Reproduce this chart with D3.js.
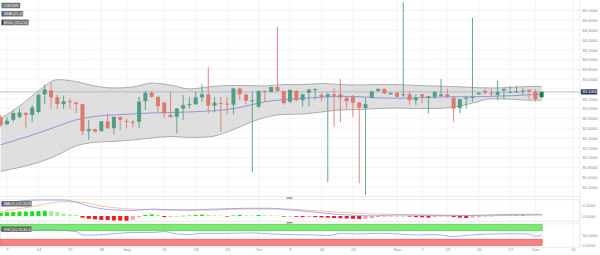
<!DOCTYPE html>
<html>
<head>
<meta charset="utf-8">
<script src="https://cdn.jsdelivr.net/npm/d3@7"></script>
<style>
body { margin: 0; background: #fff; }
svg { display: block; font-family: "Liberation Sans", Arial, sans-serif; }
</style>
</head>
<body>
<div id="chart"></div>
<script>
// USDINR daily candles, 4 Aug -> 4 Dec (weekdays)
var openP  = [82.82,82.68,82.77,82.83,82.91,82.87,82.93,83.29,83.37,83.23,83.09,83.15,83.12,83.09,82.54,82.58,82.54,82.74,82.60,82.83,82.75,82.73,82.73,83.15,83.32,83.24,83.12,82.87,82.83,83.00,83.07,83.09,83.23,83.29,83.06,83.11,83.10,83.08,83.41,83.29,83.16,83.04,83.36,83.34,83.44,83.36,83.14,83.36,83.17,83.32,83.39,83.28,83.24,83.29,83.29,83.22,83.24,83.12,83.01,83.22,83.36,83.40,83.29,83.32,83.27,83.29,83.17,83.29,83.22,83.24,83.26,83.29,83.22,83.01,83.20,83.22,83.29,83.36,83.32,83.28,83.37,83.33,83.34,83.35,83.38,83.35,83.23];
var highP  = [82.87,82.83,82.97,83.00,82.93,83.07,83.31,83.49,83.53,83.28,83.26,83.21,83.14,83.10,82.77,82.59,82.75,82.90,82.84,82.84,82.79,82.77,83.24,83.36,83.36,83.24,83.14,83.33,83.01,83.28,83.24,83.34,83.49,83.84,83.24,83.24,83.24,83.42,83.43,83.29,83.34,83.37,83.37,83.44,84.66,83.36,83.39,83.38,83.30,83.40,83.41,83.33,83.33,83.41,83.60,83.24,83.28,83.14,83.21,83.37,83.41,83.41,83.33,83.34,85.17,83.36,83.29,83.30,83.26,83.35,83.60,83.40,83.24,83.20,83.26,84.85,83.34,83.40,83.40,83.57,83.41,83.46,83.46,83.41,83.40,83.40,83.34];
var lowP   = [82.63,82.66,82.73,82.80,82.60,82.73,82.90,83.09,83.00,82.99,82.99,83.00,82.90,82.46,82.36,82.52,82.53,82.58,82.47,82.56,82.60,82.62,82.60,82.97,83.22,82.93,82.81,82.81,82.49,82.77,83.00,83.07,83.14,82.90,82.93,82.53,82.88,82.88,83.17,83.08,81.70,83.01,83.14,83.33,83.34,83.08,83.11,83.14,83.04,83.04,83.19,83.15,81.50,82.63,82.73,83.00,82.83,81.48,81.24,83.20,83.34,83.29,83.29,83.22,83.24,83.08,83.07,83.11,82.90,83.20,83.24,83.22,82.73,82.90,83.00,83.14,83.28,83.29,83.24,83.17,83.20,83.32,83.33,83.28,83.20,83.14,83.22];
var closeP = [82.66,82.75,82.91,82.92,82.87,83.02,83.28,83.39,83.23,83.09,83.15,83.13,83.09,82.54,82.58,82.53,82.74,82.60,82.83,82.77,82.73,82.71,83.14,83.32,83.24,83.05,82.90,82.83,83.00,83.07,83.09,83.23,83.29,83.06,83.12,83.10,83.08,83.41,83.29,83.16,83.17,83.36,83.34,83.44,83.36,83.11,83.38,83.17,83.29,83.39,83.40,83.24,83.29,83.26,83.22,83.15,83.12,83.02,83.09,83.34,83.40,83.31,83.32,83.24,83.29,83.17,83.22,83.24,83.25,83.34,83.29,83.24,83.00,83.19,83.22,83.24,83.32,83.32,83.31,83.34,83.40,83.34,83.35,83.37,83.35,83.19,83.34];

// SMA 21 and Bollinger 20,2 (sampled every few bars)
var bandIdx   = [0,3,6,9,12,15,18,21,24,27,30,33,36,39,42,45,48,51,54,57,60,63,66,69,72,75,78,81,84,86];
var bollUpper = [82.80,83.05,83.36,83.59,83.55,83.46,83.42,83.44,83.52,83.48,83.40,83.44,83.47,83.47,83.46,83.49,83.49,83.51,83.49,83.48,83.49,83.49,83.47,83.46,83.45,83.43,83.42,83.43,83.45,83.45];
var smaLine   = [82.26,82.38,82.50,82.64,82.77,82.84,82.87,82.89,82.91,82.92,82.93,82.95,82.98,83.05,83.14,83.18,83.21,83.23,83.25,83.24,83.22,83.21,83.22,83.23,83.24,83.24,83.25,83.26,83.28,83.29];
var bollLower = [81.72,81.80,81.90,82.05,82.24,82.31,82.33,82.36,82.40,82.43,82.41,82.42,82.52,82.68,82.82,82.88,82.89,82.93,82.97,82.98,83.00,83.01,83.00,83.00,83.03,83.11,83.20,83.19,83.17,83.17];

// MACD 12,26,9
var macdHist = [0.06,0.07,0.075,0.08,0.082,0.085,0.09,0.095,0.09,0.07,0.04,0.03,0.02,-0.03,-0.05,-0.06,-0.07,-0.075,-0.08,-0.082,-0.085,-0.07,-0.02,0.02,0.03,0.02,-0.02,-0.015,-0.01,0.005,0.01,0.02,0.025,0.02,0.015,0.01,-0.01,0.01,0.02,0.015,0.01,0.02,0.015,0.012,0.01,-0.01,-0.008,-0.015,-0.02,-0.018,-0.02,-0.025,-0.03,-0.035,-0.04,-0.045,-0.05,-0.055,-0.05,-0.04,-0.02,-0.015,-0.01,-0.008,-0.005,-0.01,-0.02,-0.025,-0.03,-0.02,-0.01,-0.008,-0.02,-0.03,-0.035,-0.03,-0.02,-0.01,0.005,0.01,0.015,0.018,0.02,0.021,0.015,0.01,0.008];
var macdIdx  = [0,3,6,10,12,14,17,21,24,29,34,39,43,46,50,53,57,59,63,67,71,74,77,81,86];
var macdLine = [0.23,0.27,0.29,0.29,0.25,0.18,0.12,0.10,0.125,0.11,0.125,0.14,0.14,0.11,0.07,0.035,0.01,0.003,0.018,0.012,0.006,0.008,0.018,0.03,0.03];
var sigIdx   = [0,5,10,13,16,19,22,26,29,34,39,45,50,54,59,63,71,77,81,86];
var sigLine  = [0.08,0.17,0.26,0.25,0.18,0.14,0.12,0.11,0.10,0.11,0.127,0.127,0.097,0.067,0.036,0.03,0.018,0.008,0.01,0.018];

// RSI 14
var rsiIdx = [0,3,6,8,10,12,13,15,18,21,24,26,28,30,32,36,40,43,46,50,52,54,57,60,63,66,69,72,74,78,82,84,85,86];
var rsiVal = [72,73,74,75,72,66,50,50,56,62,62,66,55,52,58,58,60,55,52,50,47,57,55,58,55,50,52,43,48,55,56,54,44,50];

// axis ticks
var dateIdx  = [1,6,11,16,20,26,31,36,41,46,51,56,63,67,71,76,81,85,91];
var dateLab  = ["7","14","21","28","Sep","11","18","25","Oct","9","16","23","Nov","7","13","20","27","Dec","11"];
var priceGrid = [81.4,81.6,81.8,82.0,82.2,82.4,82.6,82.8,83.0,83.2,83.4,83.6,83.8,84.0,84.2,84.4,84.6,84.8,85.0];
// 83.4 sits under the last price tag, so it has no label
var priceTicks = [81.4,81.6,81.8,82.0,82.2,82.4,82.6,82.8,83.0,83.2,83.6,83.8,84.0,84.2,84.4,84.6,84.8,85.0];
var macdTicks = [0, 0.2];
var rsiTicks = [0, 50];
var lastPrice = 83.34;

var width = 600, height = 255, plotW = 580;
var green = "#529d85", red = "#dc7a6e";

var svg = d3.select("#chart").append("svg")
    .attr("width", width)
    .attr("height", height);

var x = d3.scaleLinear().domain([0, 91]).range([0.7, 573.1]);
var y = d3.scaleLinear().domain([81.4, 85.0]).range([187, 10.5]);
var yMacd = d3.scaleLinear().domain([-0.09, 0.29]).range([221, 200]);
var yRsi = d3.scaleLinear().domain([0, 100]).range([245.5, 224.5]);

svg.append("clipPath").attr("id", "mainClip")
  .append("rect").attr("x", 0).attr("y", 0).attr("width", plotW).attr("height", 196);

// grid
var grid = svg.append("g").attr("stroke", "#efefef").attr("stroke-width", 0.7);
grid.selectAll(".v").data(dateIdx).join("line")
    .attr("x1", d => x(d)).attr("x2", d => x(d))
    .attr("y1", 0).attr("y2", 247);
grid.selectAll(".h").data(priceGrid).join("line")
    .attr("x1", 0).attr("x2", plotW)
    .attr("y1", d => y(d)).attr("y2", d => y(d));

// panel frames
svg.append("line").attr("x1", 0).attr("x2", plotW).attr("y1", 196.5).attr("y2", 196.5)
    .attr("stroke", "#e3e3e3").attr("stroke-width", 0.8);
svg.append("line").attr("x1", plotW).attr("x2", plotW).attr("y1", 0).attr("y2", 247.5)
    .attr("stroke", "#e6e6e6").attr("stroke-width", 0.7);
svg.append("rect").attr("x", 0.5).attr("y", 199.6).attr("width", plotW - 0.5).attr("height", 21.8)
    .attr("rx", 1).attr("fill", "none").attr("stroke", "#e3e3e3").attr("stroke-width", 0.7);
svg.append("rect").attr("x", 0.5).attr("y", 223.8).attr("width", plotW - 0.5).attr("height", 23.5)
    .attr("rx", 1).attr("fill", "none").attr("stroke", "#e3e3e3").attr("stroke-width", 0.7);
svg.selectAll(".handle").data([197.4, 222.1]).join("rect")
    .attr("x", 286.5).attr("y", d => d).attr("width", 6).attr("height", 1.3)
    .attr("fill", "#8a8a8a");

var main = svg.append("g").attr("clip-path", "url(#mainClip)");

// bollinger band
var bandPts = bandIdx.map((d, i) => ({i: d, u: bollUpper[i], l: bollLower[i], m: smaLine[i]}));
main.append("path").datum(bandPts)
    .attr("fill", "#d4d4d4").attr("fill-opacity", 0.75)
    .attr("d", d3.area().curve(d3.curveMonotoneX)
        .x(d => x(d.i)).y0(d => y(d.l)).y1(d => y(d.u)));
["u", "l"].forEach(k => {
  main.append("path").datum(bandPts)
      .attr("fill", "none").attr("stroke", "#9c9c9c").attr("stroke-width", 0.8)
      .attr("d", d3.line().curve(d3.curveMonotoneX).x(d => x(d.i)).y(d => y(d[k])));
});
main.append("path").datum(bandPts)
    .attr("fill", "none").attr("stroke", "#7f83d6").attr("stroke-width", 0.8)
    .attr("d", d3.line().curve(d3.curveMonotoneX).x(d => x(d.i)).y(d => y(d.m)));

// last price line
main.append("line").attr("x1", 0).attr("x2", plotW)
    .attr("y1", y(lastPrice)).attr("y2", y(lastPrice))
    .attr("stroke", "#9fb0cf").attr("stroke-width", 0.8);

// candles
var candles = openP.map((o, i) => ({i: i, o: o, h: highP[i], l: lowP[i], c: closeP[i]}));
var last = candles.length - 1;
function candleColor(d) {
  if (d.i === last) return "#1d7d5c";
  return d.c >= d.o ? green : red;
}
var cg = main.append("g");
cg.selectAll("line").data(candles).join("line")
    .attr("x1", d => x(d.i)).attr("x2", d => x(d.i))
    .attr("y1", d => y(d.h)).attr("y2", d => y(d.l))
    .attr("stroke", candleColor).attr("stroke-width", 0.9);
cg.selectAll("rect").data(candles).join("rect")
    .attr("x", d => x(d.i) - 2).attr("width", 4)
    .attr("y", d => y(Math.max(d.o, d.c)))
    .attr("height", d => Math.max(1, Math.abs(y(d.o) - y(d.c))))
    .attr("fill", candleColor);

// price axis
var ax = svg.append("g").attr("transform", "translate(" + plotW + ",0)")
    .call(d3.axisRight(y).tickValues(priceTicks).tickFormat(d3.format(".4f")).tickSize(0).tickPadding(2.5));
var ax2 = svg.append("g").attr("transform", "translate(" + plotW + ",0)")
    .call(d3.axisRight(yMacd).tickValues(macdTicks).tickFormat(d3.format(".4f")).tickSize(0).tickPadding(2.5));
var ax3 = svg.append("g").attr("transform", "translate(" + plotW + ",0)")
    .call(d3.axisRight(yRsi).tickValues(rsiTicks).tickFormat(d3.format(".4f")).tickSize(0).tickPadding(2.5));
var axb = svg.append("g").attr("transform", "translate(0,246.8)")
    .call(d3.axisBottom(x).tickValues(dateIdx).tickFormat((d, i) => dateLab[i]).tickSize(0).tickPadding(1.5));
[ax, ax2, ax3, axb].forEach(a => {
  a.select(".domain").remove();
  a.selectAll("text").attr("fill", "#8c8c8c").attr("font-size", "4.2px");
});

// last price tag
svg.append("rect").attr("x", 580.8).attr("y", y(lastPrice) - 2.6).attr("width", 16.5).attr("height", 5.2)
    .attr("rx", 0.8).attr("fill", "#2e3c5e");
svg.append("text").attr("x", 582.5).attr("y", y(lastPrice) + 1.5)
    .attr("fill", "#fff").attr("font-size", "4.2px").text(d3.format(".4f")(lastPrice));

// MACD
var hg = svg.append("g");
hg.selectAll("rect").data(macdHist).join("rect")
    .attr("x", (d, i) => x(i) - 2).attr("width", 4)
    .attr("y", d => yMacd(Math.max(0, d)))
    .attr("height", d => Math.max(0.6, Math.abs(yMacd(d) - yMacd(0))))
    .attr("fill", (d, i) => {
      var prev = i > 0 ? macdHist[i - 1] : d;
      if (d >= 0) return d >= prev ? "#1fe01f" : "#a6eda6";
      return d <= prev ? "#f01818" : "#f6a3a3";
    });
var lineM = d3.line().curve(d3.curveMonotoneX).x(d => x(d[0])).y(d => yMacd(d[1]));
svg.append("path").datum(sigIdx.map((d, i) => [d, sigLine[i]]))
    .attr("fill", "none").attr("stroke", "#f6b28c").attr("stroke-width", 0.8).attr("d", lineM);
svg.append("path").datum(macdIdx.map((d, i) => [d, macdLine[i]]))
    .attr("fill", "none").attr("stroke", "#8a96f2").attr("stroke-width", 0.8).attr("d", lineM);

// RSI zones + line
svg.append("rect").attr("x", 0).attr("width", x(last) + 0.5)
    .attr("y", yRsi(100)).attr("height", yRsi(70) - yRsi(100))
    .attr("fill", "#79ec6f").attr("stroke", "#4fc247").attr("stroke-width", 0.6);
svg.append("rect").attr("x", 0).attr("width", x(last) + 0.5)
    .attr("y", yRsi(30)).attr("height", yRsi(0) - yRsi(30))
    .attr("fill", "#f88282").attr("stroke", "#d25656").attr("stroke-width", 0.6);
svg.append("path").datum(rsiIdx.map((d, i) => [d, rsiVal[i]]))
    .attr("fill", "none").attr("stroke", "#8f95f5").attr("stroke-width", 0.8)
    .attr("d", d3.line().curve(d3.curveMonotoneX).x(d => x(d[0])).y(d => yRsi(d[1])));

// legend tags
function addTag(tx, ty, w, label, mark) {
  svg.append("rect").attr("x", tx).attr("y", ty).attr("width", w).attr("height", 5.6)
      .attr("rx", 0.6).attr("fill", "#5b5b5b").attr("fill-opacity", 0.85);
  svg.append("rect").attr("x", tx).attr("y", ty).attr("width", 0.9).attr("height", 5.6)
      .attr("fill", mark);
  svg.append("text").attr("x", tx + 2.2).attr("y", ty + 4.1)
      .attr("fill", "#f2f2f2").attr("font-size", "3.8px").text(label);
}
addTag(1.7, 2.7, 18.5, "USDINR", "#3fa17e");
addTag(1.7, 11, 21.5, "SMA (21,0)", "#2f3fe0");
addTag(1.7, 19.6, 27, "BOLL (20,2,0)", "#111");
addTag(1.7, 201, 30, "MACD (12,26,9)", "#2f3fe0");
addTag(1.7, 226.5, 30, "RSI (14,70,30,1)", "#555");
</script>
</body>
</html>
